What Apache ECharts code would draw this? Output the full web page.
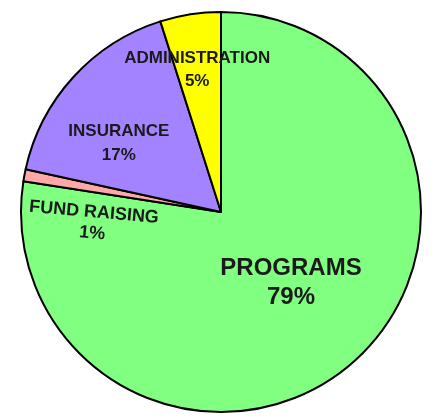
<!DOCTYPE html>
<html><head><meta charset="utf-8">
<script src="https://cdn.jsdelivr.net/npm/echarts@6/dist/echarts.min.js"></script>
<style>html,body{margin:0;padding:0;background:#fff}#c{width:435px;height:418px}</style>
</head><body><div id="c"></div>
<script>
const categories = ['PROGRAMS', 'FUND RAISING', 'INSURANCE', 'ADMINISTRATION'];
const values = [79, 1, 17, 5];
const colors = ['#80ff80', '#ffa8a8', '#a383ff', '#ffff00'];
const labelStyles = {
  'PROGRAMS': {offset: [3, -7], fontSize: 24, lineHeight: 29, rotate: 0},
  'FUND RAISING': {offset: [-24, 32], fontSize: 18, lineHeight: 21, rotate: -5},
  'INSURANCE': {offset: [-26, 1], fontSize: 17, lineHeight: 24, rotate: 0},
  'ADMINISTRATION': {offset: [-8, -40], fontSize: 17, lineHeight: 23, rotate: 0}
};
const chart = echarts.init(document.getElementById('c'));
chart.setOption({
  backgroundColor: '#fff',
  animation: false,
  series: [{
    type: 'pie',
    center: [221, 212],
    radius: 200,
    startAngle: 90,
    clockwise: true,
    avoidLabelOverlap: false,
    itemStyle: {borderColor: '#000', borderWidth: 2},
    label: {
      show: true, position: 'inside',
      formatter: p => p.name + '\n' + p.value + '%',
      fontFamily: 'Liberation Sans, Arial, sans-serif',
      fontWeight: 'bold', color: '#1a1a1a'
    },
    labelLine: {show: false},
    data: categories.map((n, i) => ({
      name: n, value: values[i],
      itemStyle: {color: colors[i]},
      label: labelStyles[n]
    }))
  }]
});
</script></body></html>
